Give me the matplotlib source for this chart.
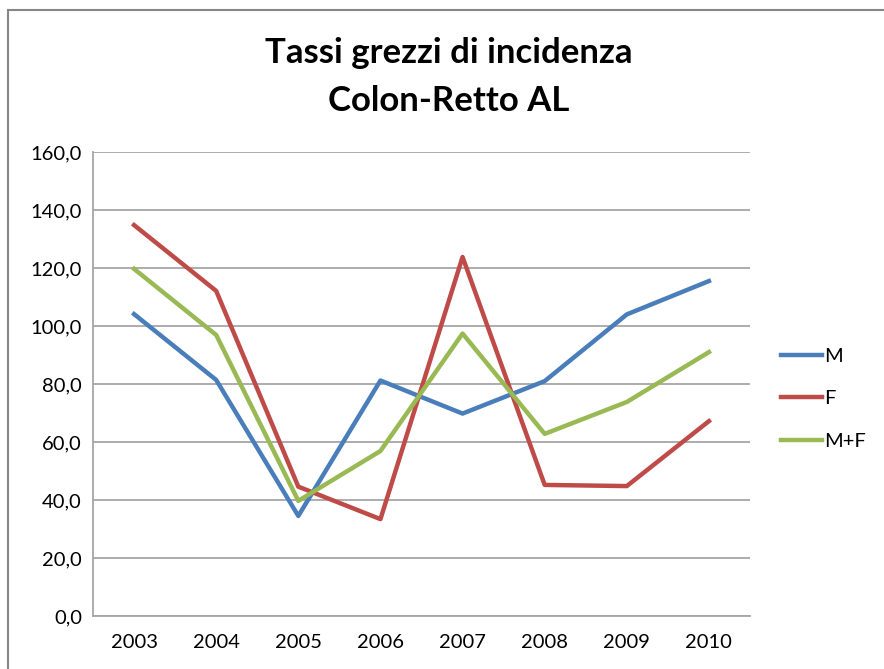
import matplotlib.pyplot as plt
from matplotlib.patches import Rectangle

years = ['2003', '2004', '2005', '2006', '2007', '2008', '2009', '2010']
m_vals = [104.1, 81.4, 34.5, 81.2, 69.8, 81.0, 104.0, 115.5]
f_vals = [134.8, 112.1, 44.6, 33.4, 123.8, 45.2, 44.8, 67.2]
mf_vals = [119.7, 96.9, 39.7, 56.9, 97.4, 62.8, 73.8, 91.0]
yticks = [0, 20, 40, 60, 80, 100, 120, 140, 160]

plt.rcParams['font.family'] = ['Lato', 'DejaVu Sans']

W, H = 884, 669
fig = plt.figure(figsize=(W / 100, H / 100), dpi=100)
# chart frame, cut off at the right and bottom like the screenshot
fig.patches.append(Rectangle((8 / W, -0.1), 1.2, 1.1 - 10 / H, transform=fig.transFigure,
                             fill=False, edgecolor='#868686', linewidth=1.5))

ax = fig.add_axes([93 / W, 1 - 616 / H, (750 - 93) / W, (616 - 152) / H])
x = range(len(years))
ax.plot(x, m_vals, color='#4a7ebb', lw=3.2, label='M')
ax.plot(x, f_vals, color='#be4b48', lw=3.2, label='F')
ax.plot(x, mf_vals, color='#98b954', lw=3.2, label='M+F')

ax.set_xlim(-0.5, len(years) - 0.5)
ax.set_ylim(0, 160)
ax.set_yticks(yticks)
ax.set_yticklabels([f'{v:.1f}'.replace('.', ',') for v in yticks])
ax.set_xticks(list(x))
ax.set_xticklabels(years)
ax.tick_params(length=0, labelsize=14.5, colors='black')
ax.tick_params(axis='y', pad=8)
ax.tick_params(axis='x', pad=13)
ax.grid(axis='y', color='#a6a6a6', lw=1.3)
ax.set_axisbelow(True)
for s in ['top', 'right']:
    ax.spines[s].set_visible(False)
for s in ['left', 'bottom']:
    ax.spines[s].set_color('#a6a6a6')
    ax.spines[s].set_linewidth(1.3)

leg = ax.legend(loc='center left', bbox_to_anchor=(1.02, 0.468), frameon=False,
                fontsize=14.5, handlelength=2.0, handletextpad=0.15, labelspacing=1.25)

fig.text(449 / W, 1 - 53 / H, 'Tassi grezzi di incidenza', ha='center', va='center',
         fontsize=25, fontweight='bold')
fig.text(449 / W, 1 - 101 / H, 'Colon-Retto AL', ha='center', va='center',
         fontsize=25, fontweight='bold')

fig.savefig('out.png', dpi=100)
